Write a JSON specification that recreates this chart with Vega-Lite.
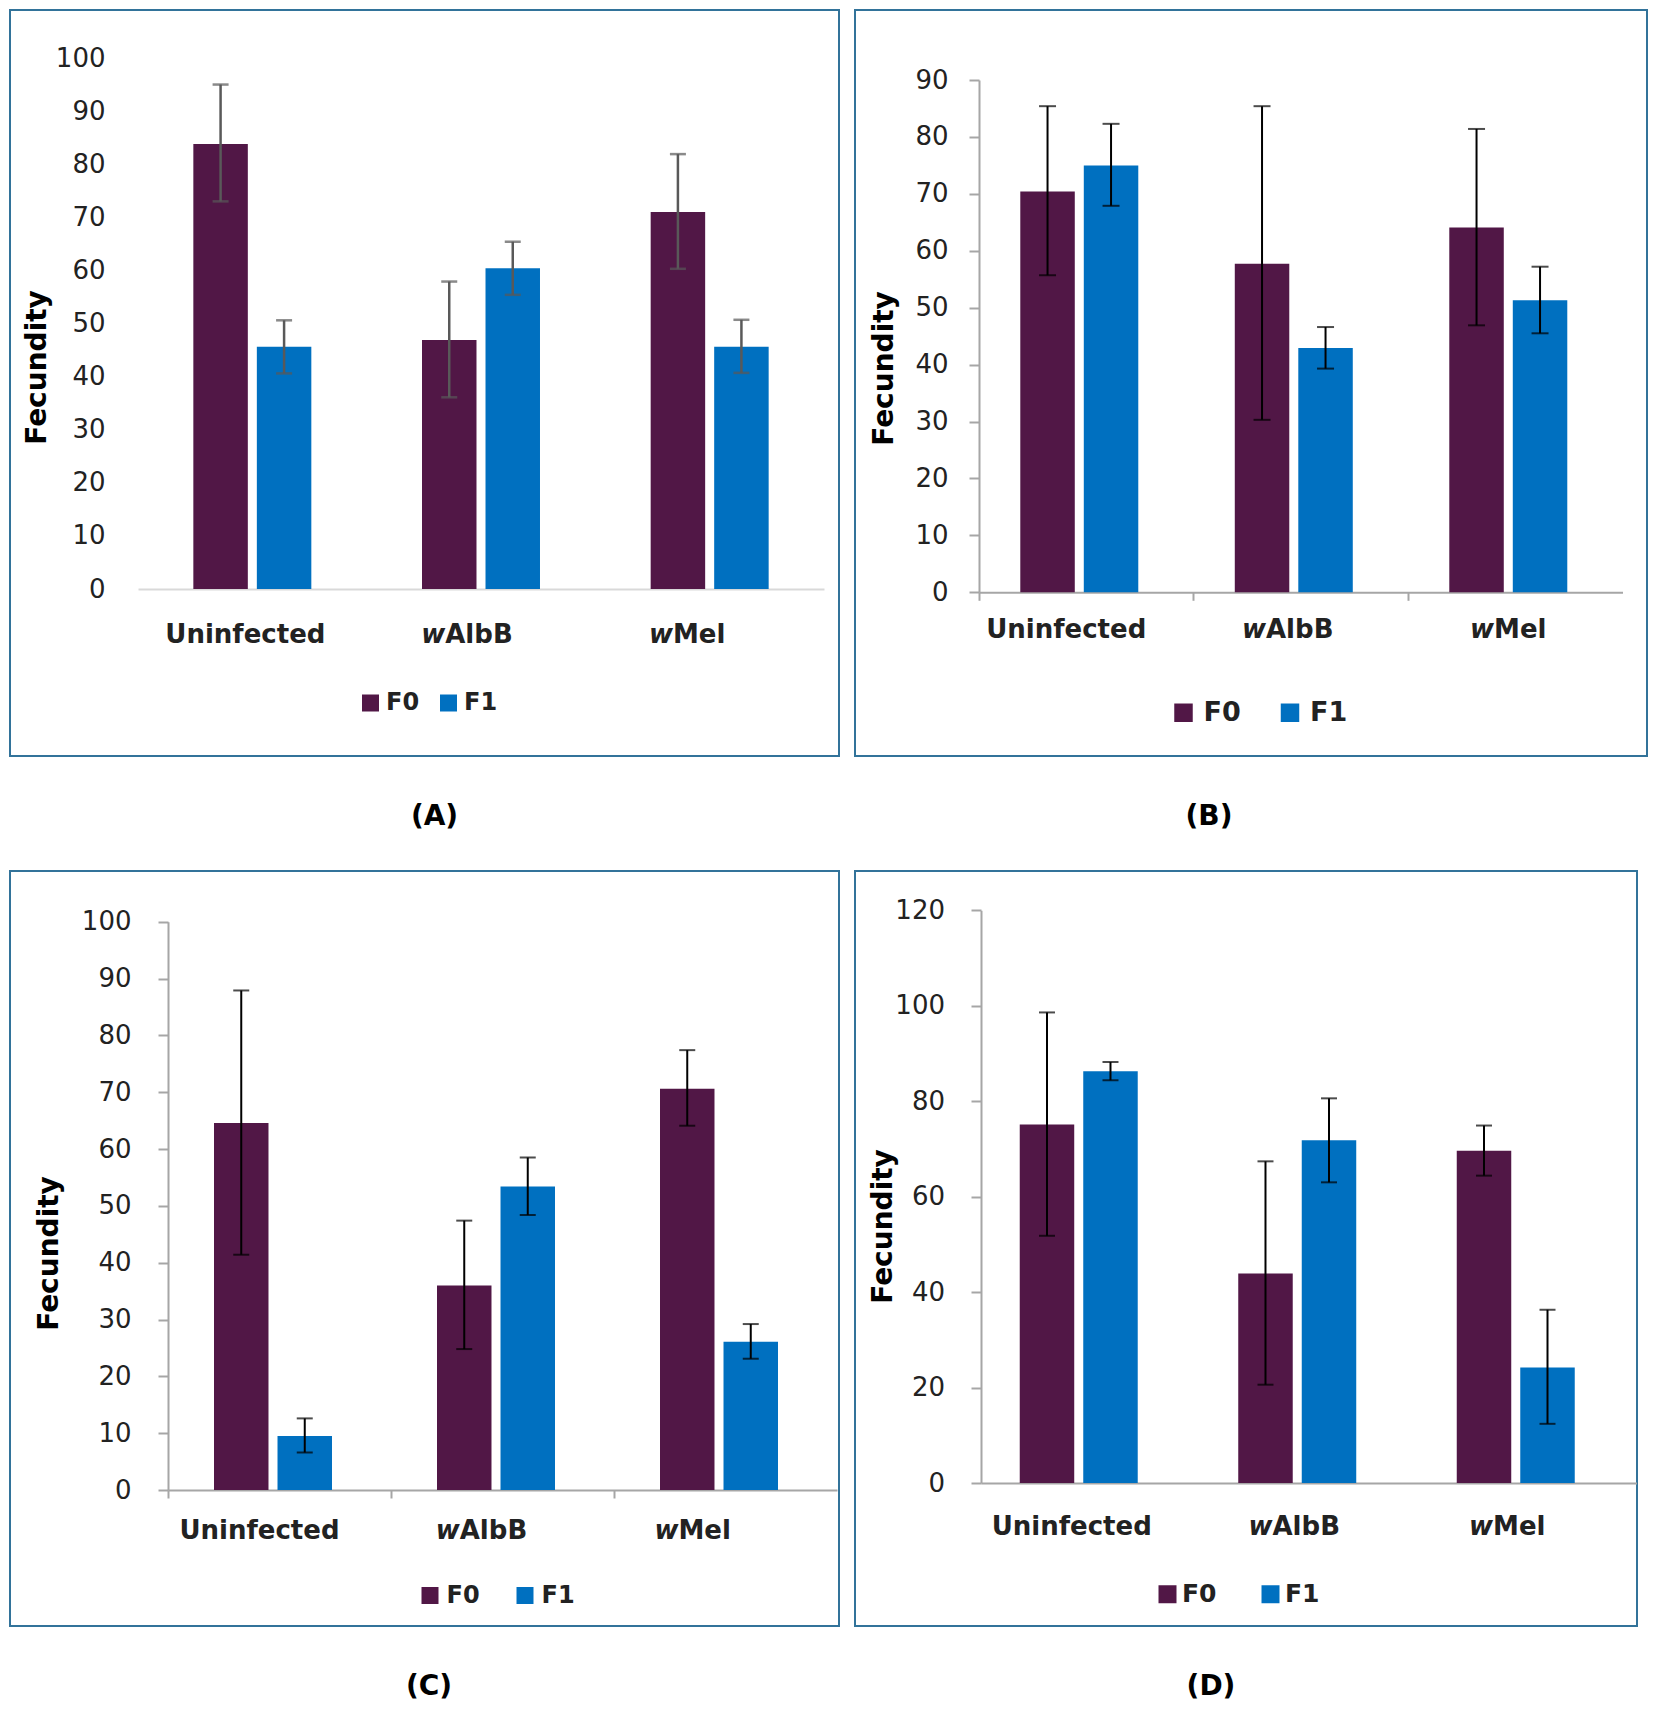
{
  "$schema": "https://vega.github.io/schema/vega-lite/v6.json",
  "padding": {"left": 9, "top": 9, "right": 5, "bottom": 5},
  "background": "white",
  "config": {"font": "DejaVu Sans", "view": {"stroke": "#32739A", "strokeWidth": 2}},
  "datasets": {
    "A": [
      {"group": "Uninfected", "gen": "F0", "mean": 83.8, "lo": 73.0, "hi": 95.0},
      {"group": "Uninfected", "gen": "F1", "mean": 45.6, "lo": 40.6, "hi": 50.6},
      {"group": "wAlbB", "gen": "F0", "mean": 46.9, "lo": 36.1, "hi": 57.9},
      {"group": "wAlbB", "gen": "F1", "mean": 60.4, "lo": 55.4, "hi": 65.4},
      {"group": "wMel", "gen": "F0", "mean": 71.0, "lo": 60.3, "hi": 81.9},
      {"group": "wMel", "gen": "F1", "mean": 45.6, "lo": 40.7, "hi": 50.7}
    ],
    "B": [
      {"group": "Uninfected", "gen": "F0", "mean": 70.4, "lo": 55.7, "hi": 85.4},
      {"group": "Uninfected", "gen": "F1", "mean": 75.0, "lo": 67.9, "hi": 82.3},
      {"group": "wAlbB", "gen": "F0", "mean": 57.7, "lo": 30.3, "hi": 85.4},
      {"group": "wAlbB", "gen": "F1", "mean": 42.9, "lo": 39.3, "hi": 46.6},
      {"group": "wMel", "gen": "F0", "mean": 64.1, "lo": 46.9, "hi": 81.4},
      {"group": "wMel", "gen": "F1", "mean": 51.3, "lo": 45.5, "hi": 57.2}
    ],
    "C": [
      {"group": "Uninfected", "gen": "F0", "mean": 64.6, "lo": 41.4, "hi": 87.9},
      {"group": "Uninfected", "gen": "F1", "mean": 9.5, "lo": 6.6, "hi": 12.6},
      {"group": "wAlbB", "gen": "F0", "mean": 36.0, "lo": 24.8, "hi": 47.4},
      {"group": "wAlbB", "gen": "F1", "mean": 53.4, "lo": 48.4, "hi": 58.5},
      {"group": "wMel", "gen": "F0", "mean": 70.6, "lo": 64.1, "hi": 77.4},
      {"group": "wMel", "gen": "F1", "mean": 26.1, "lo": 23.1, "hi": 29.2}
    ],
    "D": [
      {"group": "Uninfected", "gen": "F0", "mean": 75.1, "lo": 51.8, "hi": 98.6},
      {"group": "Uninfected", "gen": "F1", "mean": 86.3, "lo": 84.4, "hi": 88.2},
      {"group": "wAlbB", "gen": "F0", "mean": 43.9, "lo": 20.6, "hi": 67.4},
      {"group": "wAlbB", "gen": "F1", "mean": 71.8, "lo": 63.0, "hi": 80.6},
      {"group": "wMel", "gen": "F0", "mean": 69.6, "lo": 64.4, "hi": 74.9},
      {"group": "wMel", "gen": "F1", "mean": 24.2, "lo": 12.4, "hi": 36.3}
    ],
    "labels": [
      {"group": "Uninfected", "pre": "", "main": "Uninfected"},
      {"group": "wAlbB", "pre": "w", "main": "AlbB"},
      {"group": "wMel", "pre": "w", "main": "Mel"}
    ]
  },
  "spacing": 38,
  "resolve": {"scale": {"x": "independent", "y": "independent", "color": "independent"}, "axis": {"x": "independent", "y": "independent"}, "legend": {"color": "independent"}},
  "vconcat": [
    {
      "spacing": 14,
      "resolve": {"scale": {"x": "independent", "y": "independent", "color": "independent"}, "axis": {"x": "independent", "y": "independent"}, "legend": {"color": "independent"}},
      "hconcat": [
        {
          "width": 829, "height": 746,
          "title": {"text": "(A)", "orient": "bottom", "offset": 47, "fontSize": 28, "fontWeight": "bold", "color": "#000", "dx": 10, "anchor": "middle"},
          "layer": [
            {"data": {"name": "A"}, "mark": {"type": "bar"},
             "encoding": {
               "x": {"field": "group", "type": "nominal", "sort": ["Uninfected", "wAlbB", "wMel"], "scale": {"range": [128, 814], "paddingInner": 0.484, "paddingOuter": 0.242}, "axis": {"title": null, "labels": false, "ticks": false, "domainColor": "#D9D9D9", "domainWidth": 2, "offset": -167}},
               "xOffset": {"field": "gen", "type": "nominal", "scale": {"paddingInner": 0.142, "paddingOuter": 0}},
               "y": {"field": "mean", "type": "quantitative", "scale": {"domain": [0, 100], "range": [579, 48], "nice": false}, "axis": {"title": "Fecundity", "values": [0, 10, 20, 30, 40, 50, 60, 70, 80, 90, 100], "domain": false, "ticks": false, "tickSize": 0, "grid": false, "labelPadding": 0, "offset": -95, "labelFontSize": 26, "labelColor": "#222", "titleFontSize": 28, "titleFontWeight": "bold", "titleColor": "#000", "titlePadding": 4, "titleY": 357}},
               "color": {"field": "gen", "type": "nominal", "scale": {"domain": ["F0", "F1"], "range": ["#511746", "#0070C0"]}, "legend": {"title": null, "orient": "none", "legendX": 348.5, "legendY": 681, "direction": "horizontal", "symbolType": "square", "symbolSize": 289, "symbolStrokeWidth": 0, "labelFontSize": 24, "labelFontWeight": "bold", "labelColor": "#222", "labelOffset": 3.5, "columnPadding": 17, "padding": 0}}
             }},
            {"data": {"name": "A"}, "mark": {"type": "rule", "color": "#595959", "strokeWidth": 2.5},
             "encoding": {"x": {"field": "group", "type": "nominal"}, "xOffset": {"field": "gen", "type": "nominal"}, "y": {"field": "lo", "type": "quantitative"}, "y2": {"field": "hi"}}},
            {"data": {"name": "A"}, "mark": {"type": "tick", "orient": "horizontal", "size": 16, "thickness": 2.5, "color": "#595959"},
             "encoding": {"x": {"field": "group", "type": "nominal"}, "xOffset": {"field": "gen", "type": "nominal"}, "y": {"field": "hi", "type": "quantitative"}}},
            {"data": {"name": "A"}, "mark": {"type": "tick", "orient": "horizontal", "size": 16, "thickness": 2.5, "color": "#595959"},
             "encoding": {"x": {"field": "group", "type": "nominal"}, "xOffset": {"field": "gen", "type": "nominal"}, "y": {"field": "lo", "type": "quantitative"}}},
            {"data": {"name": "labels"}, "transform": [{"filter": "datum.group == 'Uninfected'"}], "mark": {"type": "text", "fontSize": 26, "fontWeight": "bold", "color": "#222", "align": "center", "baseline": "middle", "dx": -7, "dy": 46},
             "encoding": {"x": {"field": "group", "type": "nominal"}, "y": {"datum": 0}, "text": {"field": "main"}}},
            {"data": {"name": "labels"}, "transform": [{"filter": "datum.group == 'wAlbB'"}], "mark": {"type": "text", "fontSize": 26, "fontWeight": "bold", "fontStyle": "italic", "color": "#222", "align": "right", "baseline": "middle", "dx": -35.75, "dy": 46},
             "encoding": {"x": {"field": "group", "type": "nominal"}, "y": {"datum": 0}, "text": {"field": "pre"}}},
            {"data": {"name": "labels"}, "transform": [{"filter": "datum.group == 'wAlbB'"}], "mark": {"type": "text", "fontSize": 26, "fontWeight": "bold", "color": "#222", "align": "left", "baseline": "middle", "dx": -35.75, "dy": 46},
             "encoding": {"x": {"field": "group", "type": "nominal"}, "y": {"datum": 0}, "text": {"field": "main"}}},
            {"data": {"name": "labels"}, "transform": [{"filter": "datum.group == 'wMel'"}], "mark": {"type": "text", "fontSize": 26, "fontWeight": "bold", "fontStyle": "italic", "color": "#222", "align": "right", "baseline": "middle", "dx": -36.7, "dy": 46},
             "encoding": {"x": {"field": "group", "type": "nominal"}, "y": {"datum": 0}, "text": {"field": "pre"}}},
            {"data": {"name": "labels"}, "transform": [{"filter": "datum.group == 'wMel'"}], "mark": {"type": "text", "fontSize": 26, "fontWeight": "bold", "color": "#222", "align": "left", "baseline": "middle", "dx": -36.7, "dy": 46},
             "encoding": {"x": {"field": "group", "type": "nominal"}, "y": {"datum": 0}, "text": {"field": "main"}}}
          ]
        },
        {
          "width": 792, "height": 746,
          "title": {"text": "(B)", "orient": "bottom", "offset": 47, "fontSize": 28, "fontWeight": "bold", "color": "#000", "dx": -42, "anchor": "middle"},
          "layer": [
            {"data": {"name": "B"}, "mark": {"type": "bar"},
             "encoding": {
               "x": {"field": "group", "type": "nominal", "sort": ["Uninfected", "wAlbB", "wMel"], "scale": {"range": [124, 767.5], "paddingInner": 0.385, "paddingOuter": 0.1925}, "axis": {"title": null, "labels": false, "ticks": true, "bandPosition": -0.313, "tickSize": 8, "tickColor": "#A6A6A6", "tickWidth": 2, "domainColor": "#A6A6A6", "domainWidth": 2, "offset": -163.7}},
               "xOffset": {"field": "gen", "type": "nominal", "scale": {"paddingInner": 0.167, "paddingOuter": 0}},
               "y": {"field": "mean", "type": "quantitative", "scale": {"domain": [0, 90], "range": [582.3, 70], "nice": false}, "axis": {"title": "Fecundity", "values": [0, 10, 20, 30, 40, 50, 60, 70, 80, 90], "domain": true, "domainColor": "#A6A6A6", "domainWidth": 2, "ticks": true, "tickSize": 10, "tickColor": "#A6A6A6", "tickWidth": 2, "grid": false, "labelPadding": 21, "offset": -124, "labelFontSize": 26, "labelColor": "#222", "titleFontSize": 28, "titleFontWeight": "bold", "titleColor": "#000", "titlePadding": 16, "titleY": 358}},
               "color": {"field": "gen", "type": "nominal", "scale": {"domain": ["F0", "F1"], "range": ["#511746", "#0070C0"]}, "legend": {"title": null, "orient": "none", "legendX": 315, "legendY": 689, "direction": "horizontal", "symbolType": "square", "symbolSize": 342, "symbolStrokeWidth": 0, "labelFontSize": 27, "labelFontWeight": "bold", "labelColor": "#222", "labelOffset": 6.5, "columnPadding": 35.5, "padding": 0}}
             }},
            {"data": {"name": "B"}, "mark": {"type": "rule", "color": "#000", "strokeWidth": 2},
             "encoding": {"x": {"field": "group", "type": "nominal"}, "xOffset": {"field": "gen", "type": "nominal"}, "y": {"field": "lo", "type": "quantitative"}, "y2": {"field": "hi"}}},
            {"data": {"name": "B"}, "mark": {"type": "tick", "orient": "horizontal", "size": 17, "thickness": 2, "color": "#000"},
             "encoding": {"x": {"field": "group", "type": "nominal"}, "xOffset": {"field": "gen", "type": "nominal"}, "y": {"field": "hi", "type": "quantitative"}}},
            {"data": {"name": "B"}, "mark": {"type": "tick", "orient": "horizontal", "size": 17, "thickness": 2, "color": "#000"},
             "encoding": {"x": {"field": "group", "type": "nominal"}, "xOffset": {"field": "gen", "type": "nominal"}, "y": {"field": "lo", "type": "quantitative"}}},
            {"data": {"name": "labels"}, "transform": [{"filter": "datum.group == 'Uninfected'"}], "mark": {"type": "text", "fontSize": 26, "fontWeight": "bold", "color": "#222", "align": "center", "baseline": "middle", "dx": -20, "dy": 37.7},
             "encoding": {"x": {"field": "group", "type": "nominal"}, "y": {"datum": 0}, "text": {"field": "main"}}},
            {"data": {"name": "labels"}, "transform": [{"filter": "datum.group == 'wAlbB'"}], "mark": {"type": "text", "fontSize": 26, "fontWeight": "bold", "fontStyle": "italic", "color": "#222", "align": "right", "baseline": "middle", "dx": -34.75, "dy": 37.7},
             "encoding": {"x": {"field": "group", "type": "nominal"}, "y": {"datum": 0}, "text": {"field": "pre"}}},
            {"data": {"name": "labels"}, "transform": [{"filter": "datum.group == 'wAlbB'"}], "mark": {"type": "text", "fontSize": 26, "fontWeight": "bold", "color": "#222", "align": "left", "baseline": "middle", "dx": -34.75, "dy": 37.7},
             "encoding": {"x": {"field": "group", "type": "nominal"}, "y": {"datum": 0}, "text": {"field": "main"}}},
            {"data": {"name": "labels"}, "transform": [{"filter": "datum.group == 'wMel'"}], "mark": {"type": "text", "fontSize": 26, "fontWeight": "bold", "fontStyle": "italic", "color": "#222", "align": "right", "baseline": "middle", "dx": -21.2, "dy": 37.7},
             "encoding": {"x": {"field": "group", "type": "nominal"}, "y": {"datum": 0}, "text": {"field": "pre"}}},
            {"data": {"name": "labels"}, "transform": [{"filter": "datum.group == 'wMel'"}], "mark": {"type": "text", "fontSize": 26, "fontWeight": "bold", "color": "#222", "align": "left", "baseline": "middle", "dx": -21.2, "dy": 37.7},
             "encoding": {"x": {"field": "group", "type": "nominal"}, "y": {"datum": 0}, "text": {"field": "main"}}}
          ]
        }
      ]
    },
    {
      "spacing": 14,
      "resolve": {"scale": {"x": "independent", "y": "independent", "color": "independent"}, "axis": {"x": "independent", "y": "independent"}, "legend": {"color": "independent"}},
      "hconcat": [
        {
          "width": 829, "height": 755,
          "title": {"text": "(C)", "orient": "bottom", "offset": 47, "fontSize": 28, "fontWeight": "bold", "color": "#000", "dx": 4.5, "anchor": "middle"},
          "layer": [
            {"data": {"name": "C"}, "mark": {"type": "bar"},
             "encoding": {
               "x": {"field": "group", "type": "nominal", "sort": ["Uninfected", "wAlbB", "wMel"], "scale": {"range": [158, 827], "paddingInner": 0.4126, "paddingOuter": 0.2063}, "axis": {"title": null, "labels": false, "ticks": true, "bandPosition": -0.351, "tickSize": 8, "tickColor": "#A6A6A6", "tickWidth": 2, "domainColor": "#A6A6A6", "domainWidth": 2, "offset": -136}},
               "xOffset": {"field": "gen", "type": "nominal", "scale": {"paddingInner": 0.101, "paddingOuter": 0}},
               "y": {"field": "mean", "type": "quantitative", "scale": {"domain": [0, 100], "range": [619, 50.7], "nice": false}, "axis": {"title": "Fecundity", "values": [0, 10, 20, 30, 40, 50, 60, 70, 80, 90, 100], "domain": true, "domainColor": "#A6A6A6", "domainWidth": 2, "ticks": true, "tickSize": 10, "tickColor": "#A6A6A6", "tickWidth": 2, "grid": false, "labelPadding": 27, "offset": -158, "labelFontSize": 26, "labelColor": "#222", "titleFontSize": 28, "titleFontWeight": "bold", "titleColor": "#000", "titlePadding": 18, "titleY": 382}},
               "color": {"field": "gen", "type": "nominal", "scale": {"domain": ["F0", "F1"], "range": ["#511746", "#0070C0"]}, "legend": {"title": null, "orient": "none", "legendX": 408, "legendY": 712.5, "direction": "horizontal", "symbolType": "square", "symbolSize": 289, "symbolStrokeWidth": 0, "labelFontSize": 24, "labelFontWeight": "bold", "labelColor": "#222", "labelOffset": 4.5, "columnPadding": 33, "padding": 0}}
             }},
            {"data": {"name": "C"}, "mark": {"type": "rule", "color": "#000", "strokeWidth": 2},
             "encoding": {"x": {"field": "group", "type": "nominal"}, "xOffset": {"field": "gen", "type": "nominal"}, "y": {"field": "lo", "type": "quantitative"}, "y2": {"field": "hi"}}},
            {"data": {"name": "C"}, "mark": {"type": "tick", "orient": "horizontal", "size": 16, "thickness": 2, "color": "#000"},
             "encoding": {"x": {"field": "group", "type": "nominal"}, "xOffset": {"field": "gen", "type": "nominal"}, "y": {"field": "hi", "type": "quantitative"}}},
            {"data": {"name": "C"}, "mark": {"type": "tick", "orient": "horizontal", "size": 16, "thickness": 2, "color": "#000"},
             "encoding": {"x": {"field": "group", "type": "nominal"}, "xOffset": {"field": "gen", "type": "nominal"}, "y": {"field": "lo", "type": "quantitative"}}},
            {"data": {"name": "labels"}, "transform": [{"filter": "datum.group == 'Uninfected'"}], "mark": {"type": "text", "fontSize": 26, "fontWeight": "bold", "color": "#222", "align": "center", "baseline": "middle", "dx": -20, "dy": 41},
             "encoding": {"x": {"field": "group", "type": "nominal"}, "y": {"datum": 0}, "text": {"field": "main"}}},
            {"data": {"name": "labels"}, "transform": [{"filter": "datum.group == 'wAlbB'"}], "mark": {"type": "text", "fontSize": 26, "fontWeight": "bold", "fontStyle": "italic", "color": "#222", "align": "right", "baseline": "middle", "dx": -42.75, "dy": 41},
             "encoding": {"x": {"field": "group", "type": "nominal"}, "y": {"datum": 0}, "text": {"field": "pre"}}},
            {"data": {"name": "labels"}, "transform": [{"filter": "datum.group == 'wAlbB'"}], "mark": {"type": "text", "fontSize": 26, "fontWeight": "bold", "color": "#222", "align": "left", "baseline": "middle", "dx": -42.75, "dy": 41},
             "encoding": {"x": {"field": "group", "type": "nominal"}, "y": {"datum": 0}, "text": {"field": "main"}}},
            {"data": {"name": "labels"}, "transform": [{"filter": "datum.group == 'wMel'"}], "mark": {"type": "text", "fontSize": 26, "fontWeight": "bold", "fontStyle": "italic", "color": "#222", "align": "right", "baseline": "middle", "dx": -47, "dy": 41},
             "encoding": {"x": {"field": "group", "type": "nominal"}, "y": {"datum": 0}, "text": {"field": "pre"}}},
            {"data": {"name": "labels"}, "transform": [{"filter": "datum.group == 'wMel'"}], "mark": {"type": "text", "fontSize": 26, "fontWeight": "bold", "color": "#222", "align": "left", "baseline": "middle", "dx": -47, "dy": 41},
             "encoding": {"x": {"field": "group", "type": "nominal"}, "y": {"datum": 0}, "text": {"field": "main"}}}
          ]
        },
        {
          "width": 782, "height": 755,
          "title": {"text": "(D)", "orient": "bottom", "offset": 47, "fontSize": 28, "fontWeight": "bold", "color": "#000", "dx": -35, "anchor": "middle"},
          "layer": [
            {"data": {"name": "D"}, "mark": {"type": "bar"},
             "encoding": {
               "x": {"field": "group", "type": "nominal", "sort": ["Uninfected", "wAlbB", "wMel"], "scale": {"range": [126, 781.5], "paddingInner": 0.3547, "paddingOuter": 0.1773}, "axis": {"title": null, "labels": false, "ticks": false, "domainColor": "#A6A6A6", "domainWidth": 2, "offset": -143}},
               "xOffset": {"field": "gen", "type": "nominal", "scale": {"paddingInner": 0.108, "paddingOuter": 0}},
               "y": {"field": "mean", "type": "quantitative", "scale": {"domain": [0, 120], "range": [612, 39.3], "nice": false}, "axis": {"title": "Fecundity", "values": [0, 20, 40, 60, 80, 100, 120], "domain": true, "domainColor": "#A6A6A6", "domainWidth": 2, "ticks": true, "tickSize": 10, "tickColor": "#A6A6A6", "tickWidth": 2, "grid": false, "labelPadding": 26.5, "offset": -126, "labelFontSize": 26, "labelColor": "#222", "titleFontSize": 28, "titleFontWeight": "bold", "titleColor": "#000", "titlePadding": -3, "titleY": 355}},
               "color": {"field": "gen", "type": "nominal", "scale": {"domain": ["F0", "F1"], "range": ["#511746", "#0070C0"]}, "legend": {"title": null, "orient": "none", "legendX": 300, "legendY": 710.5, "direction": "horizontal", "symbolType": "square", "symbolSize": 324, "symbolStrokeWidth": 0, "labelFontSize": 25, "labelFontWeight": "bold", "labelColor": "#222", "labelOffset": 2, "columnPadding": 41, "padding": 0}}
             }},
            {"data": {"name": "D"}, "mark": {"type": "rule", "color": "#000", "strokeWidth": 2},
             "encoding": {"x": {"field": "group", "type": "nominal"}, "xOffset": {"field": "gen", "type": "nominal"}, "y": {"field": "lo", "type": "quantitative"}, "y2": {"field": "hi"}}},
            {"data": {"name": "D"}, "mark": {"type": "tick", "orient": "horizontal", "size": 16, "thickness": 2, "color": "#000"},
             "encoding": {"x": {"field": "group", "type": "nominal"}, "xOffset": {"field": "gen", "type": "nominal"}, "y": {"field": "hi", "type": "quantitative"}}},
            {"data": {"name": "D"}, "mark": {"type": "tick", "orient": "horizontal", "size": 16, "thickness": 2, "color": "#000"},
             "encoding": {"x": {"field": "group", "type": "nominal"}, "xOffset": {"field": "gen", "type": "nominal"}, "y": {"field": "lo", "type": "quantitative"}}},
            {"data": {"name": "labels"}, "transform": [{"filter": "datum.group == 'Uninfected'"}], "mark": {"type": "text", "fontSize": 26, "fontWeight": "bold", "color": "#222", "align": "center", "baseline": "middle", "dx": -18.5, "dy": 43.7},
             "encoding": {"x": {"field": "group", "type": "nominal"}, "y": {"datum": 0}, "text": {"field": "main"}}},
            {"data": {"name": "labels"}, "transform": [{"filter": "datum.group == 'wAlbB'"}], "mark": {"type": "text", "fontSize": 26, "fontWeight": "bold", "fontStyle": "italic", "color": "#222", "align": "right", "baseline": "middle", "dx": -36.25, "dy": 43.7},
             "encoding": {"x": {"field": "group", "type": "nominal"}, "y": {"datum": 0}, "text": {"field": "pre"}}},
            {"data": {"name": "labels"}, "transform": [{"filter": "datum.group == 'wAlbB'"}], "mark": {"type": "text", "fontSize": 26, "fontWeight": "bold", "color": "#222", "align": "left", "baseline": "middle", "dx": -36.25, "dy": 43.7},
             "encoding": {"x": {"field": "group", "type": "nominal"}, "y": {"datum": 0}, "text": {"field": "main"}}},
            {"data": {"name": "labels"}, "transform": [{"filter": "datum.group == 'wMel'"}], "mark": {"type": "text", "fontSize": 26, "fontWeight": "bold", "fontStyle": "italic", "color": "#222", "align": "right", "baseline": "middle", "dx": -34.2, "dy": 43.7},
             "encoding": {"x": {"field": "group", "type": "nominal"}, "y": {"datum": 0}, "text": {"field": "pre"}}},
            {"data": {"name": "labels"}, "transform": [{"filter": "datum.group == 'wMel'"}], "mark": {"type": "text", "fontSize": 26, "fontWeight": "bold", "color": "#222", "align": "left", "baseline": "middle", "dx": -34.2, "dy": 43.7},
             "encoding": {"x": {"field": "group", "type": "nominal"}, "y": {"datum": 0}, "text": {"field": "main"}}}
          ]
        }
      ]
    }
  ]
}
